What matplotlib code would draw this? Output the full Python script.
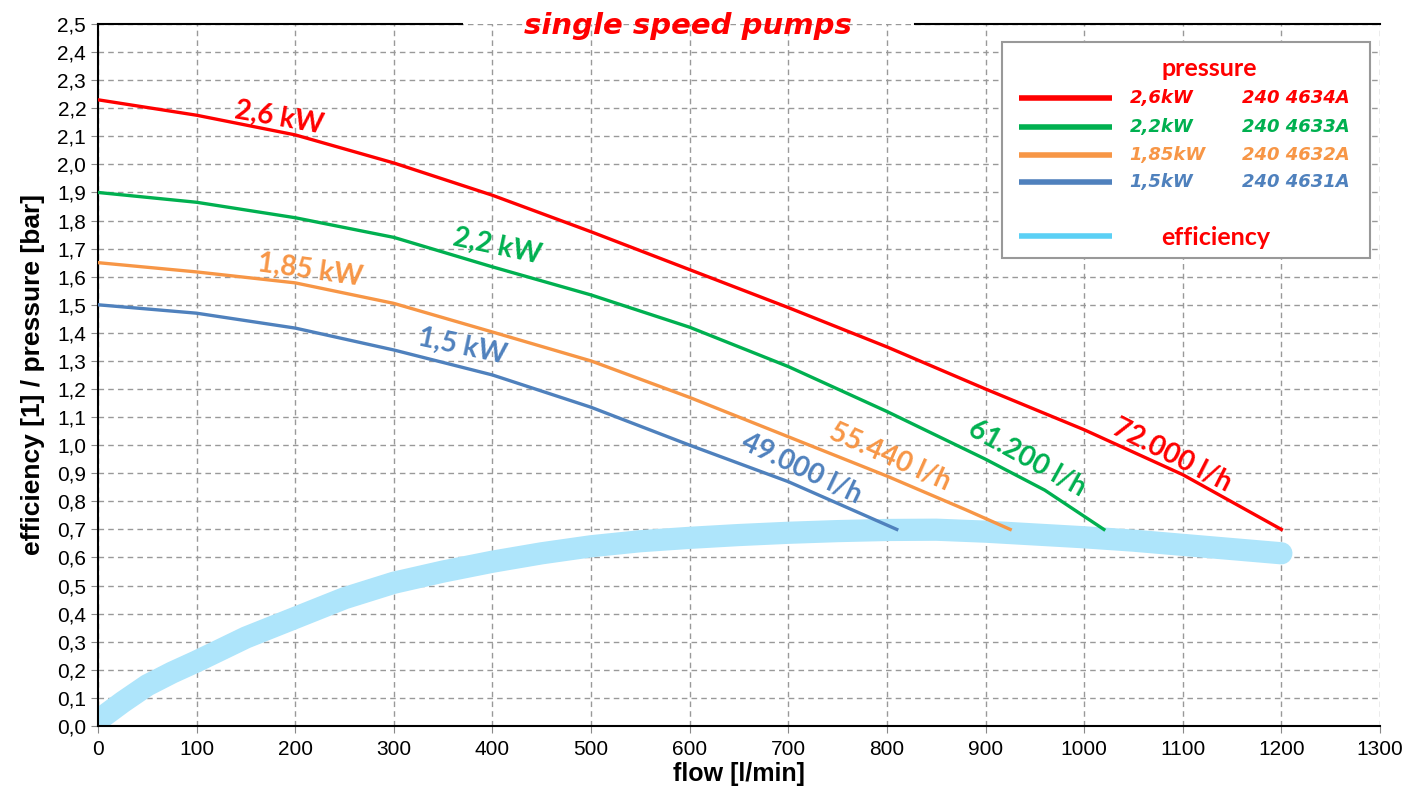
import matplotlib.pyplot as plt
from matplotlib.patches import Rectangle

plt.rcParams['font.family'] = ['Liberation Sans', 'DejaVu Sans']

# pressure curves, flow in l/min, pressure in bar
flow_26 = [0, 100, 200, 300, 400, 500, 600, 700, 800, 900, 1000, 1100, 1200]
p_26 = [2.23, 2.175, 2.105, 2.005, 1.89, 1.76, 1.625, 1.49, 1.35, 1.2, 1.055, 0.895, 0.70]

flow_22 = [0, 100, 200, 300, 400, 500, 600, 700, 800, 900, 960, 1020]
p_22 = [1.90, 1.865, 1.81, 1.74, 1.635, 1.535, 1.42, 1.28, 1.12, 0.95, 0.84, 0.70]

flow_185 = [0, 100, 200, 300, 400, 500, 600, 700, 800, 880, 925]
p_185 = [1.65, 1.617, 1.578, 1.505, 1.403, 1.30, 1.17, 1.03, 0.89, 0.77, 0.70]

flow_15 = [0, 100, 200, 300, 400, 500, 600, 700, 810]
p_15 = [1.50, 1.47, 1.417, 1.339, 1.25, 1.135, 1.00, 0.87, 0.70]

# efficiency curve
flow_eff = [0, 25, 50, 75, 100, 150, 200, 250, 300, 350, 400, 450, 500, 550, 600,
            650, 700, 750, 800, 850, 900, 950, 1000, 1050, 1100, 1150, 1200]
eff = [0.02, 0.085, 0.145, 0.19, 0.23, 0.315, 0.385, 0.455, 0.51, 0.55, 0.585, 0.615, 0.64,
       0.658, 0.67, 0.68, 0.688, 0.694, 0.698, 0.699, 0.692, 0.682, 0.672, 0.66, 0.645, 0.63, 0.615]

kw_labels = ['2,6kW', '2,2kW', '1,85kW', '1,5kW']
part_numbers = ['240 4634A', '240 4633A', '240 4632A', '240 4631A']
colors = ['#ff0000', '#00b050', '#f79646', '#4f81bd']
eff_color = '#aee5fb'

fig = plt.figure(figsize=(14.24, 7.91), dpi=100)
ax = fig.add_axes([0.0688, 0.0822, 0.9003, 0.8875])

ax.plot(flow_eff, eff, color=eff_color, lw=16, solid_capstyle='round', zorder=2)
ax.plot(flow_26, p_26, color=colors[0], lw=2.4, zorder=3)
ax.plot(flow_22, p_22, color=colors[1], lw=2.4, zorder=3)
ax.plot(flow_185, p_185, color=colors[2], lw=2.4, zorder=3)
ax.plot(flow_15, p_15, color=colors[3], lw=2.4, zorder=3)

ax.set_xlim(0, 1300)
ax.set_ylim(0, 2.5)
ax.set_xticks(range(0, 1301, 100))
yt = [i / 10 for i in range(26)]
ax.set_yticks(yt)
ax.set_yticklabels([f'{v:.1f}'.replace('.', ',') for v in yt])
ax.tick_params(axis='both', labelsize=15, length=5, color='#888888')
ax.tick_params(axis='x', pad=5)
ax.grid(True, ls=(0, (4, 3)), color='#999999', lw=1)
ax.set_axisbelow(True)
ax.spines['right'].set_visible(False)
ax.spines['top'].set_visible(False)
for s in ['left', 'bottom']:
    ax.spines[s].set_linewidth(1.5)
# top border broken by the title
ax.plot([0, 0.284], [1, 1], transform=ax.transAxes, color='black', lw=1.5, clip_on=False)
ax.plot([0.637, 1], [1, 1], transform=ax.transAxes, color='black', lw=1.5, clip_on=False)

ax.set_xlabel('flow [l/min]', fontsize=18, fontweight='bold', labelpad=2)
ax.set_ylabel('efficiency [1] / pressure [bar]', fontsize=19, fontweight='bold', labelpad=9)

ax.text(0.46, 0.997, 'single speed pumps', transform=ax.transAxes, ha='center', va='center',
        fontsize=21, fontweight='bold', style='italic', color='red',
        fontfamily='DejaVu Sans', zorder=10)

lab = dict(fontfamily='Lato', fontweight='bold', fontsize=20, ha='center', va='center', zorder=5)
ax.text(184, 2.165, '2,6 kW', color=colors[0], rotation=-10, **lab)
ax.text(405, 1.709, '2,2 kW', color=colors[1], rotation=-12, **lab)
ax.text(215, 1.624, '1,85 kW', color=colors[2], rotation=-8, **lab)
ax.text(370, 1.35, '1,5 kW', color=colors[3], rotation=-12, **lab)
ax.text(714, 0.919, '49.000 l/h', color=colors[3], rotation=-25.5, **lab)
ax.text(803, 0.958, '55.440 l/h', color=colors[2], rotation=-24, **lab)
ax.text(942, 0.954, '61.200 l/h', color=colors[1], rotation=-29, **lab)
ax.text(1089, 0.965, '72.000 l/h', color=colors[0], rotation=-27, **lab)

# legend box drawn by hand
ax.add_patch(Rectangle((917, 1.667), 373, 0.769, facecolor='white', edgecolor='#999999',
                       lw=1.5, zorder=6))
ax.text(1127, 2.343, 'pressure', color='red', fontfamily='Lato', fontweight='bold',
        fontsize=18, ha='center', va='center', zorder=7)
legend_y = [2.236, 2.132, 2.033, 1.937]
for i in range(4):
    yy = legend_y[i]
    ax.plot([934, 1028], [yy, yy], color=colors[i], lw=4, zorder=7, solid_capstyle='butt')
    ax.text(1046, yy, kw_labels[i], color=colors[i], fontsize=13, fontweight='bold',
            style='italic', fontfamily='DejaVu Sans', ha='left', va='center', zorder=7)
    ax.text(1160, yy, part_numbers[i], color=colors[i], fontsize=13, fontweight='bold',
            style='italic', fontfamily='DejaVu Sans', ha='left', va='center', zorder=7)
ax.plot([934, 1028], [1.745, 1.745], color='#5bd0f5', lw=4, zorder=7, solid_capstyle='butt')
ax.text(1133, 1.738, 'efficiency', color='red', fontfamily='Lato', fontweight='bold',
        fontsize=18, ha='center', va='center', zorder=7)

fig.savefig('out.png', dpi=100)
